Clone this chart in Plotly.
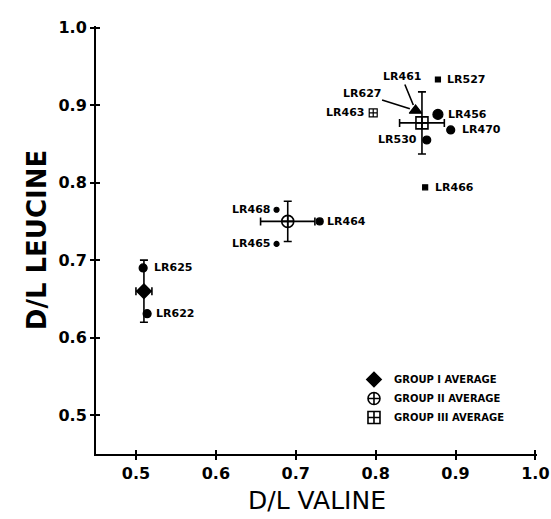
import plotly.graph_objects as go

# ---- data ----
avg_names = ["GROUP I AVERAGE", "GROUP II AVERAGE", "GROUP III AVERAGE"]
avg_x = [0.51, 0.69, 0.858]
avg_y = [0.66, 0.75, 0.877]
avg_xerr = [0.01, 0.034, 0.028]
avg_yerr = [0.04, 0.026, 0.04]

sample_names = ["LR625", "LR622", "LR464", "LR468", "LR465",
                "LR461", "LR527", "LR456", "LR470", "LR530", "LR466", "LR463"]
sample_x = [0.509, 0.514, 0.73, 0.676, 0.676,
            0.850, 0.878, 0.878, 0.894, 0.864, 0.862, 0.797]
sample_y = [0.690, 0.631, 0.75, 0.765, 0.721,
            0.893, 0.933, 0.888, 0.868, 0.855, 0.794, 0.890]

arrow_label = "LR627"   # second label pointing at the LR461 triangle

x_ticks = [0.5, 0.6, 0.7, 0.8, 0.9, 1.0]
y_ticks = [0.5, 0.6, 0.7, 0.8, 0.9, 1.0]
x_tick_text = ["0.5", "0.6", "0.7", "0.8", "0.9", "1.0"]
y_tick_text = ["0.5", "0.6", "0.7", "0.8", "0.9", "1.0"]

x_title = "D/L VALINE"
y_title = "D/L LEUCINE"

# ---- styles ----
avg_symbols = ["diamond", "circle-cross-open", "square-cross-open"]
avg_sizes = [11, 12, 12]
sample_symbols = ["circle", "circle", "circle", "circle", "circle",
                  "triangle-up", "square", "circle", "circle", "circle", "square", "square-cross-open"]
sample_sizes = [8, 8, 7, 5, 5, 11, 5, 10, 8, 8, 5, 8]
label_side = ["r", "r", "r", "l", "l", None, "r", "r", "r", "l", "r", "l"]
label_shift = [9, 7, 5, -5, -5, 0, 7, 8, 9, -8, 8, -7]

LBL_FONT = dict(family="DejaVu Sans", size=11, color="black")
BOLD = "DejaVu Sans"
RNG = [0.45, 1.002]

fig = go.Figure()

for i in range(3):
    fig.add_trace(go.Scatter(
        x=[avg_x[i]], y=[avg_y[i]], mode="markers", name="<b>%s</b>" % avg_names[i],
        marker=dict(symbol=avg_symbols[i], size=avg_sizes[i], color="black", opacity=1,
                    line=dict(color="black", width=1.6)),
        error_x=dict(type="constant", value=avg_xerr[i], color="black", thickness=1.6, width=4),
        error_y=dict(type="constant", value=avg_yerr[i], color="black", thickness=1.6, width=4),
        showlegend=True,
    ))

fig.add_trace(go.Scatter(
    x=sample_x, y=sample_y, mode="markers", showlegend=False,
    marker=dict(symbol=sample_symbols, size=sample_sizes, color="#000000", opacity=1,
                line=dict(color="#000000", width=1.2)),
))

annotations = []
for name, x, y, side, sh in zip(sample_names, sample_x, sample_y, label_side, label_shift):
    if side is None:
        annotations.append(dict(x=x, y=y, xref="x", yref="y", text="<b>%s</b>" % name,
                                showarrow=True, arrowhead=0, arrowwidth=1.6, arrowcolor="black",
                                ax=-14, ay=-34, standoff=6, font=LBL_FONT))
        annotations.append(dict(x=x, y=y, xref="x", yref="y", text="<b>%s</b>" % arrow_label,
                                showarrow=True, arrowhead=0, arrowwidth=1.6, arrowcolor="black",
                                ax=-54, ay=-17, standoff=6, font=LBL_FONT))
        continue
    annotations.append(dict(x=x, y=y, xref="x", yref="y", text="<b>%s</b>" % name,
                            showarrow=False, xanchor="left" if side == "r" else "right",
                            xshift=sh, yshift=0, font=LBL_FONT))

# x-axis title placed as a paper annotation below the tick labels
annotations.append(dict(x=0.5, y=-0.108, xref="paper", yref="paper", text=x_title,
                        showarrow=False, xanchor="center", yanchor="middle",
                        font=dict(family="DejaVu Sans", size=25, color="black")))

axis_common = dict(showgrid=False, zeroline=False, showline=True, linecolor="black",
                   linewidth=2, ticks="outside", ticklen=4, tickwidth=1.6, tickcolor="black",
                   range=RNG, automargin=False)

fig.update_layout(
    width=551, height=519,
    margin=dict(l=96, r=14, t=26, b=65),
    paper_bgcolor="white", plot_bgcolor="white",
    xaxis=dict(**axis_common, tickvals=x_ticks, ticktext=["<b>%s</b>" % t for t in x_tick_text],
               tickfont=dict(family=BOLD, size=16, color="black")),
    yaxis=dict(**axis_common, tickvals=y_ticks, ticktext=["<b>%s</b>" % t for t in y_tick_text],
               tickfont=dict(family=BOLD, size=16, color="black"),
               title=dict(text="<b>%s</b>" % y_title, font=dict(family="DejaVu Sans", size=26, color="black"),
                          standoff=4)),
    xaxis2=dict(overlaying="x", range=RNG, tickvals=x_ticks, showticklabels=False,
                ticks="inside", ticklen=4, tickwidth=1.6, tickcolor="black",
                showgrid=False, zeroline=False, showline=False, anchor="y", side="bottom"),
    yaxis2=dict(overlaying="y", range=RNG, tickvals=y_ticks, showticklabels=False,
                ticks="inside", ticklen=4, tickwidth=1.6, tickcolor="black",
                showgrid=False, zeroline=False, showline=False, anchor="x", side="left"),
    legend=dict(x=0.585, y=0.208, xanchor="left", yanchor="top",
                font=dict(family=BOLD, size=10, color="black"),
                bgcolor="rgba(0,0,0,0)", itemwidth=30, tracegroupgap=0),
    annotations=annotations,
    showlegend=True,
)
# invisible trace to activate overlay axes for the inner tick halves
fig.add_trace(go.Scatter(x=[None], y=[None], xaxis="x2", yaxis="y2", showlegend=False))

fig.write_html("out.html", config={"displayModeBar": False},
               post_script="document.body.style.margin='0';document.body.style.overflow='hidden';")
